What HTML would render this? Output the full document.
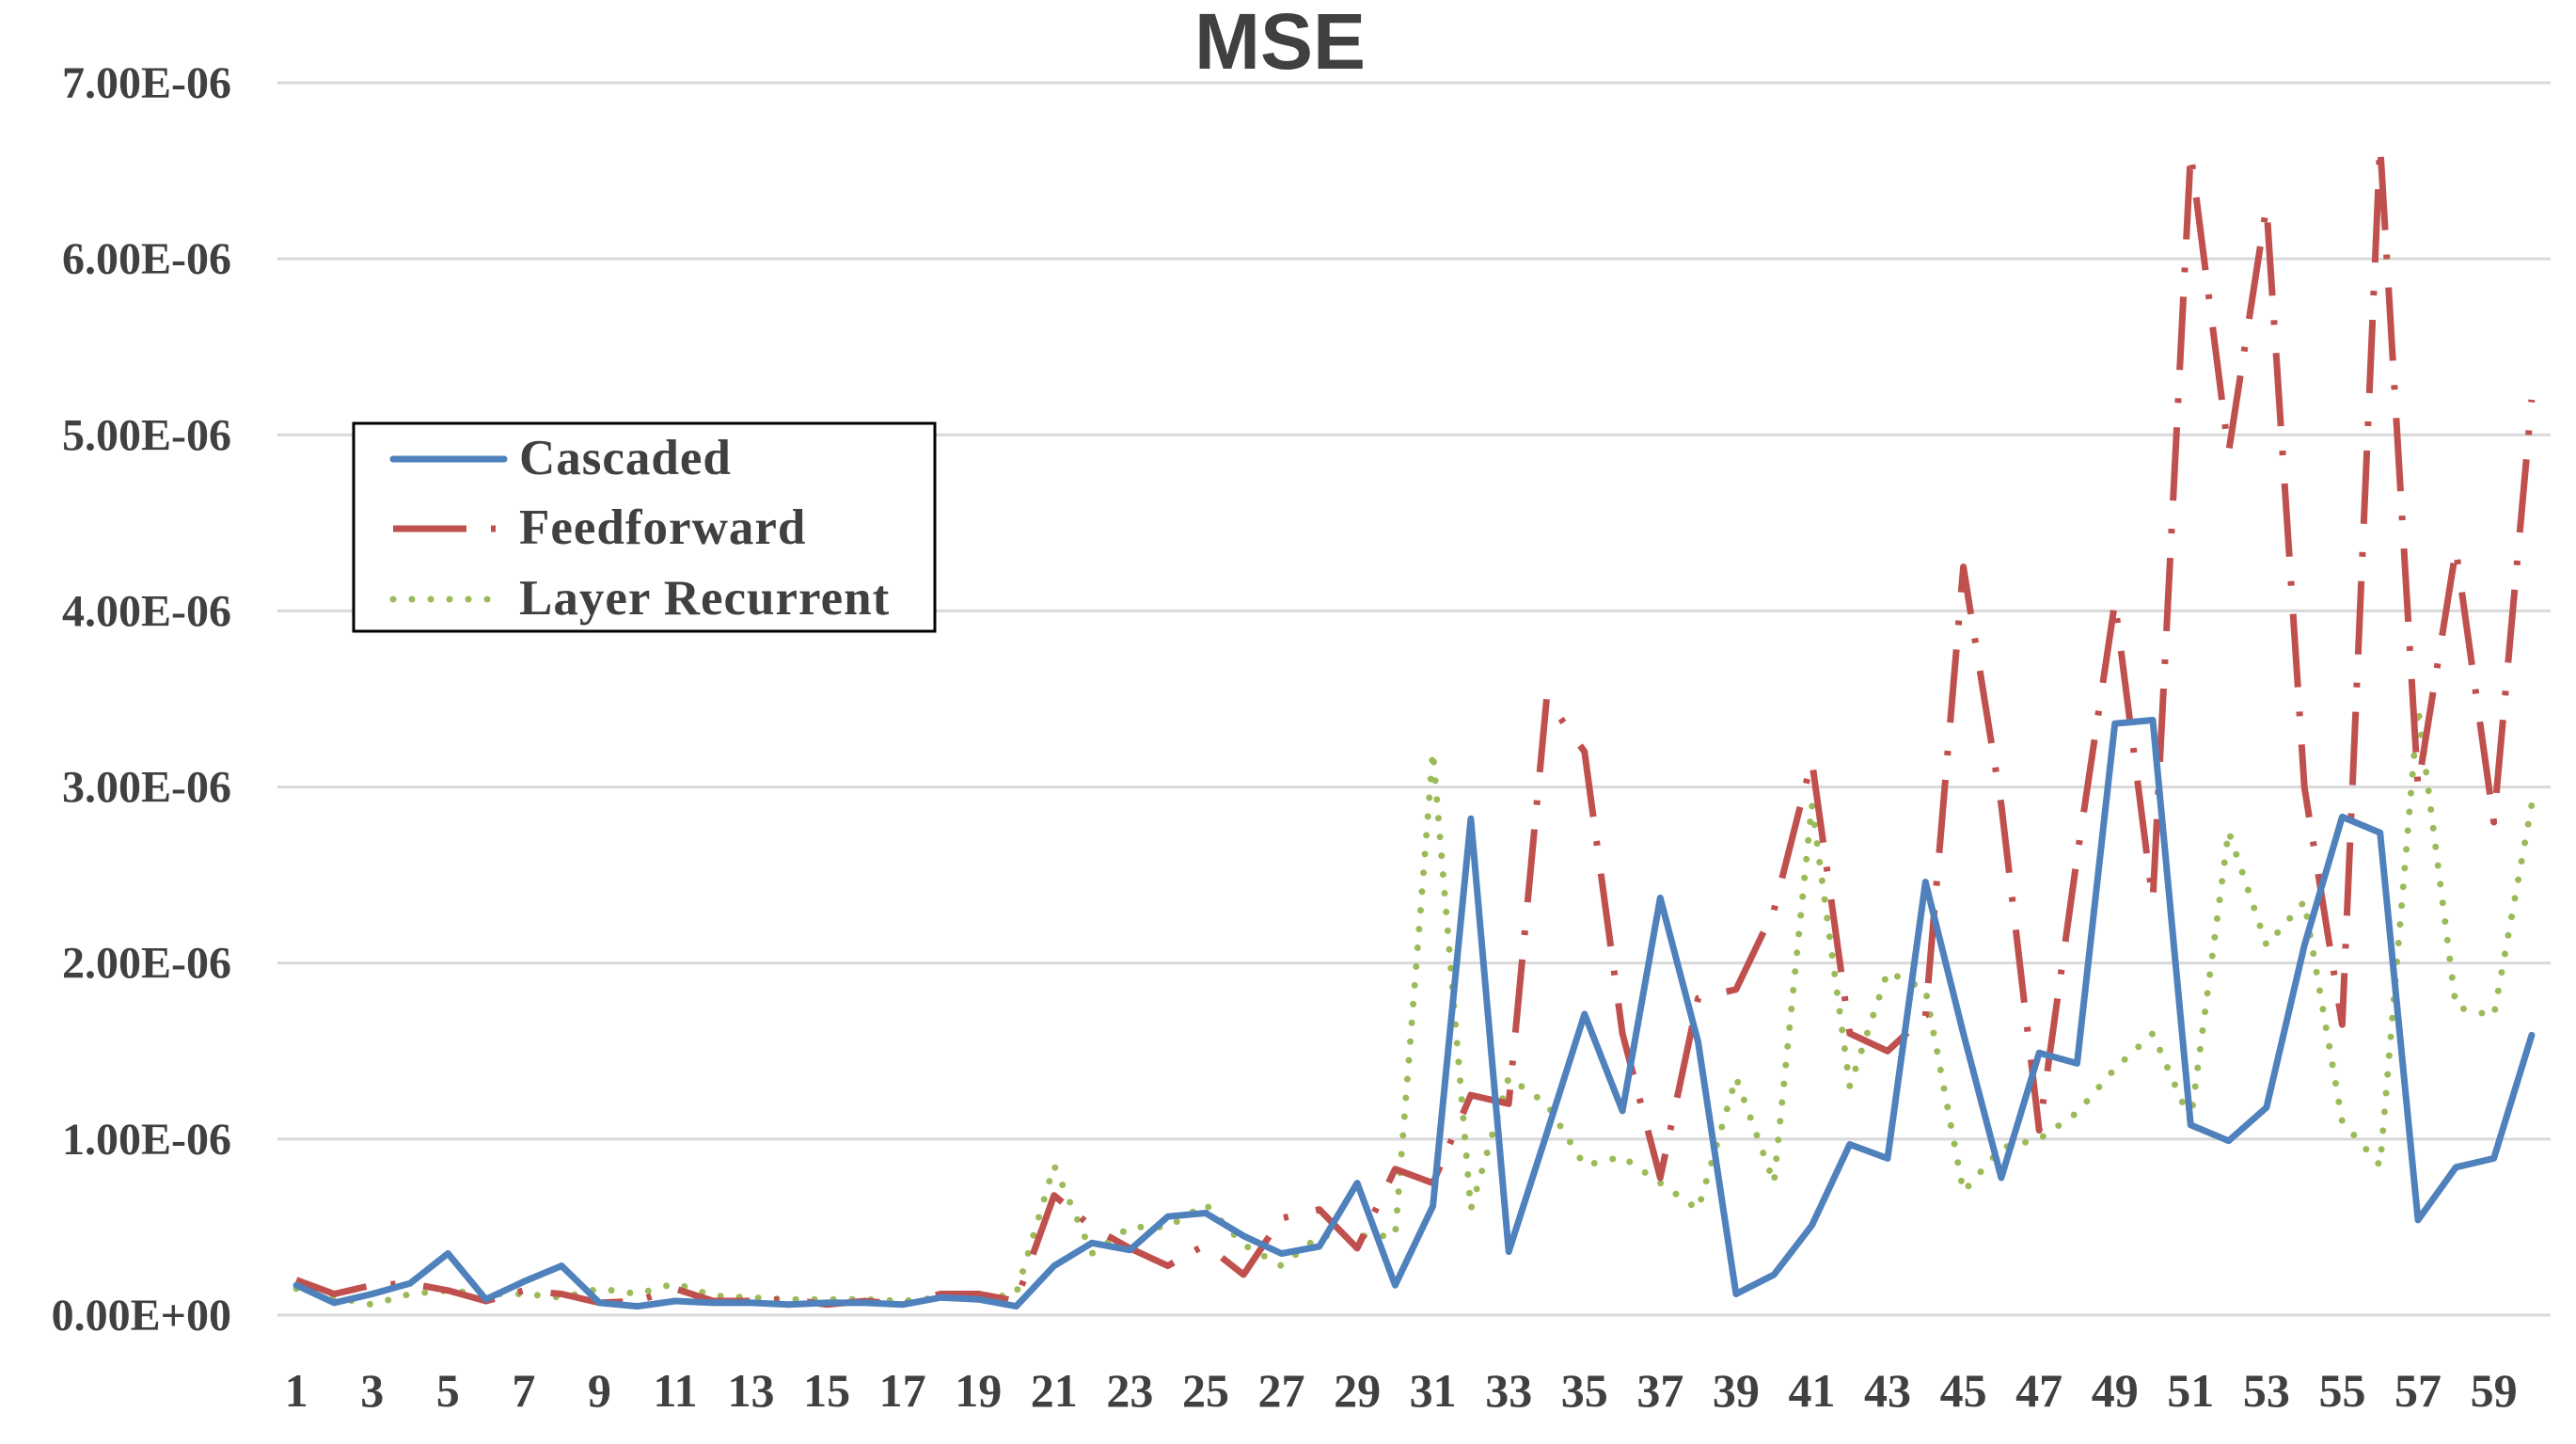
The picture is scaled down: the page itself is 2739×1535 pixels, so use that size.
<!DOCTYPE html>
<html><head><meta charset="utf-8"><style>
html,body{margin:0;padding:0;background:#fff;}
svg{display:block;}
</style></head><body>
<svg id="chart" width="2739" height="1535" viewBox="0 0 2739 1535" xmlns="http://www.w3.org/2000/svg">
<text x="1361" y="73" text-anchor="middle" font-family="Liberation Sans, sans-serif" font-weight="bold" font-size="84" fill="#404040">MSE</text>
<g id="grid"></g>
<g id="yticks"></g>
<g id="xticks"></g>
<g id="series"></g>
<g>
<rect x="376" y="450" width="618" height="221" fill="#fff" stroke="#000" stroke-width="3"/>
<g>
<line x1="418" y1="488" x2="536" y2="488" stroke="#4f81bd" stroke-width="7" stroke-linecap="round"/>
<text x="552" y="504" font-family="Liberation Serif, serif" font-weight="bold" font-size="53" letter-spacing="1" fill="#404040">Cascaded</text></g>
<g>
<line x1="418" y1="562" x2="536" y2="562" stroke="#c0504d" stroke-width="7" stroke-dasharray="78 26 5 30"/>
<text x="552" y="578" font-family="Liberation Serif, serif" font-weight="bold" font-size="53" letter-spacing="1" fill="#404040">Feedforward</text></g>
<g>
<line x1="418" y1="637" x2="536" y2="637" stroke="#9bbb59" stroke-width="7" stroke-dasharray="0 20" stroke-linecap="round"/>
<text x="552" y="653" font-family="Liberation Serif, serif" font-weight="bold" font-size="53" letter-spacing="1" fill="#404040">Layer Recurrent</text></g>
</g>
</svg>
<script>
const categories = Array.from({length:60},(_,i)=>String(i+1));
const yTicks = [0,1,2,3,4,5,6,7];
const yTickLabels = ["0.00E+00","1.00E-06","2.00E-06","3.00E-06","4.00E-06","5.00E-06","6.00E-06","7.00E-06"];
const cascaded = [0.17,0.07,0.12,0.18,0.35,0.09,0.19,0.28,0.07,0.05,0.08,0.07,0.07,0.06,0.07,0.07,0.06,0.1,0.09,0.05,0.28,0.41,0.37,0.56,0.58,0.45,0.35,0.39,0.75,0.17,0.62,2.82,0.36,1.03,1.71,1.16,2.37,1.55,0.12,0.23,0.51,0.97,0.89,2.46,1.6,0.78,1.49,1.43,3.36,3.38,1.08,0.99,1.18,2.1,2.83,2.74,0.54,0.84,0.89,1.59];
const feedforward = [0.2,0.12,0.17,0.18,0.14,0.08,0.14,0.12,0.07,0.08,0.15,0.08,0.08,0.09,0.06,0.08,0.06,0.12,0.12,0.08,0.68,0.5,0.38,0.28,0.4,0.23,0.55,0.6,0.38,0.83,0.75,1.25,1.2,3.5,3.2,1.6,0.78,1.8,1.85,2.3,3.15,1.6,1.5,1.7,4.25,2.9,1.05,2.6,4.05,2.35,6.6,4.9,6.3,3.0,1.65,6.65,3.0,4.35,2.8,5.2];
const layerRecurrent = [0.15,0.1,0.06,0.12,0.14,0.12,0.12,0.1,0.15,0.12,0.18,0.11,0.1,0.09,0.09,0.09,0.08,0.1,0.09,0.12,0.85,0.35,0.5,0.5,0.63,0.4,0.28,0.45,0.45,0.45,3.2,0.6,1.35,1.2,0.85,0.9,0.75,0.6,1.35,0.75,2.9,1.3,1.95,1.85,0.7,0.95,1.0,1.15,1.4,1.6,1.1,2.75,2.1,2.35,1.1,0.85,3.45,1.75,1.7,2.9];

const NS="http://www.w3.org/2000/svg";
const plotL=295, plotR=2712, y0=1398, y7=88;
const band=(plotR-plotL)/categories.length;
const xPos=i=>plotL+(i+0.5)*band;
const yPos=v=>y0-(v/7)*(y0-y7);
function mk(tag,attrs,parent){const e=document.createElementNS(NS,tag);for(const k in attrs)e.setAttribute(k,attrs[k]);parent.appendChild(e);return e;}
const grid=document.getElementById('grid'),yt=document.getElementById('yticks'),xt=document.getElementById('xticks'),ser=document.getElementById('series');
yTicks.forEach((v,i)=>{
  const l=mk('line',{x1:plotL,x2:plotR,y1:yPos(v),y2:yPos(v),stroke:'#d9d9d9','stroke-width':3},grid);
  
  
  const t=mk('text',{x:246,y:yPos(v)+16,'text-anchor':'end','font-family':'Liberation Serif, serif','font-weight':'bold','font-size':48,fill:'#404040'},yt);
  t.textContent=yTickLabels[i];
  
  
});
categories.forEach((c,i)=>{
  if(i%2) return;
  const t=mk('text',{x:xPos(i),y:1495,'text-anchor':'middle','font-family':'Liberation Serif, serif','font-weight':'bold','font-size':50,fill:'#404040'},xt);
  t.textContent=c;
  
  
});
function line(data,color,dash,cap,name){
  const d=data.map((v,i)=>(i?'L':'M')+xPos(i).toFixed(1)+' '+yPos(v).toFixed(1)).join(' ');
  const p=mk('path',{d:d,fill:'none',stroke:color,'stroke-width':7,'stroke-linejoin':'round','stroke-linecap':cap},ser);
  if(dash)p.setAttribute('stroke-dasharray',dash);
  
  
}
line(layerRecurrent,'#9bbb59','0 20','round','layer-recurrent-line');
line(feedforward,'#c0504d','78 26 5 30','butt','feedforward-line');
line(cascaded,'#4f81bd',null,'round','cascaded-line');
</script>
</body></html>
